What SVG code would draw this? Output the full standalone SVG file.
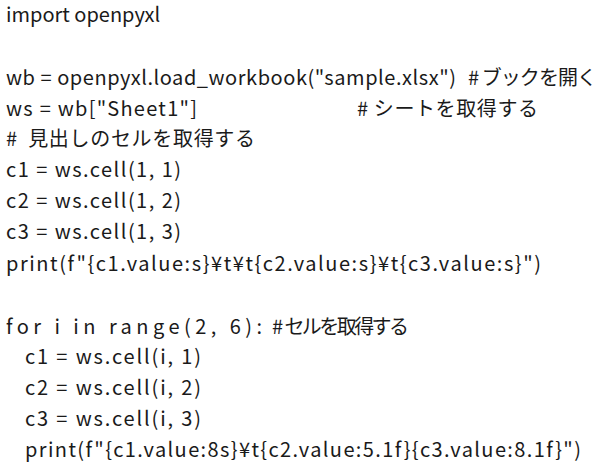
<svg xmlns="http://www.w3.org/2000/svg" width="612" height="472" viewBox="0 0 612 472">
<style>text{font-family:"Noto Sans CJK JP","Noto Sans",sans-serif;font-size:20px;fill:#1a1a1a;white-space:pre}</style>
<rect width="612" height="472" fill="#ffffff"/>
<text x="6" y="22">import openpyxl</text>
<text x="6" y="85" textLength="450" lengthAdjust="spacing">wb = openpyxl.load_workbook("sample.xlsx")</text>
<text x="468" y="85" textLength="129" lengthAdjust="spacing"># ブックを開く</text>
<text x="6" y="116" textLength="191" lengthAdjust="spacing">ws = wb["Sheet1"]</text>
<text x="357" y="116" textLength="181" lengthAdjust="spacing"># シートを取得する</text>
<text x="6" y="146" xml:space="preserve" textLength="249" lengthAdjust="spacing">#  見出しのセルを取得する</text>
<text x="6" y="177" textLength="175" lengthAdjust="spacing">c1 = ws.cell(1, 1)</text>
<text x="6" y="208" textLength="175" lengthAdjust="spacing">c2 = ws.cell(1, 2)</text>
<text x="6" y="239" textLength="175" lengthAdjust="spacing">c3 = ws.cell(1, 3)</text>
<text x="6" y="271" textLength="535" lengthAdjust="spacing">print(f"{c1.value:s}¥t¥t{c2.value:s}¥t{c3.value:s}")</text>
<text x="6" y="334" xml:space="preserve" textLength="256" lengthAdjust="spacing">for i in range(2, 6):</text>
<text x="272" y="334" xml:space="preserve" textLength="137" lengthAdjust="spacing">#  セルを取得する</text>
<text x="25" y="364" textLength="176" lengthAdjust="spacing">c1 = ws.cell(i, 1)</text>
<text x="25" y="395" textLength="176" lengthAdjust="spacing">c2 = ws.cell(i, 2)</text>
<text x="25" y="426" textLength="176" lengthAdjust="spacing">c3 = ws.cell(i, 3)</text>
<text x="25" y="457" textLength="556" lengthAdjust="spacing">print(f"{c1.value:8s}¥t{c2.value:5.1f}{c3.value:8.1f}")</text>
</svg>
